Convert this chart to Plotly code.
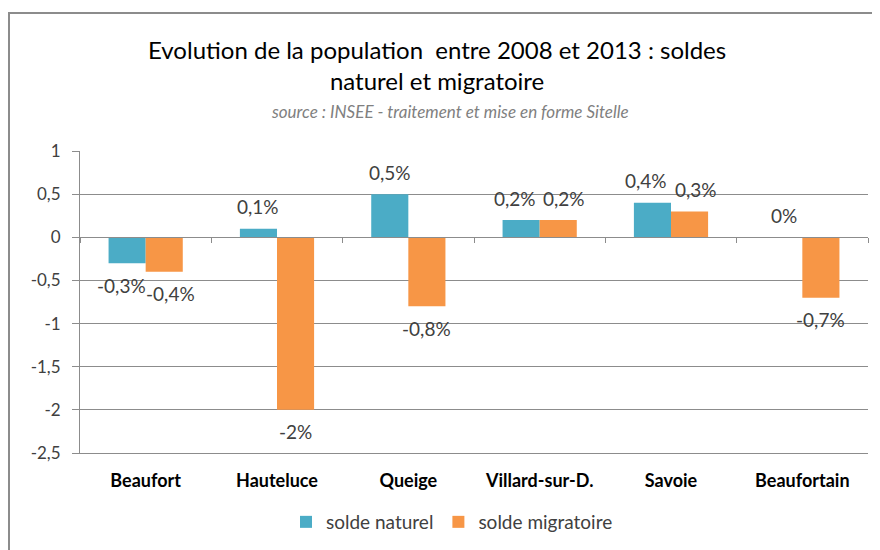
import plotly.graph_objects as go

categories = ["Beaufort", "Hauteluce", "Queige", "Villard-sur-D.", "Savoie", "Beaufortain"]
solde_naturel = [-0.3, 0.1, 0.5, 0.2, 0.4, 0.0]
solde_migratoire = [-0.4, -2.0, -0.8, 0.2, 0.3, -0.7]
y_ticks = [1, 0.5, 0, -0.5, -1, -1.5, -2, -2.5]

def fmt(v):
    return ("%g" % v).replace(".", ",")

OFF = 8  # default page body margin around the figure
W, H = 880 - OFF, 550 - OFF
ML, MR, MT, MB = 80 - OFF, 12, 151 - OFF, 97
PW, PH = W - ML - MR, H - MT - MB
FONT = "Lato, Open Sans, sans-serif"
BLUE = "#4BACC6"
ORANGE = "#F79646"
GRID = "#8C8C8C"
TXT = "#404040"
BARGAP = 0.435
LABEL_GAP = 22     # px between bar end and label centre
LABEL_SPREAD = 6   # px outward spread of the two labels of a crowded group
LABEL_H = 15       # approx label height in px (collision test)

def px_x(p):
    return (p - OFF - ML) / PW

def px_y(p):
    return (H - MB - (p - OFF)) / PH

series = [("solde naturel", solde_naturel, BLUE),
          ("solde migratoire", solde_migratoire, ORANGE)]

fig = go.Figure()
for name, vals, col in series:
    fig.add_trace(go.Bar(
        name=name, x=categories, y=vals,
        marker=dict(color=col, line=dict(width=0)),
    ))
# invisible trace to carry the zero-line axis with boundary ticks
fig.add_trace(go.Bar(x=categories, y=[None] * len(categories), xaxis="x2",
                     showlegend=False, hoverinfo="skip"))

yr = [min(y_ticks), max(y_ticks)]
px_per_unit = PH / (yr[1] - yr[0])

# data labels, spread apart a little when the two labels of a group collide
cat_w = PW / len(categories)
bar_w = cat_w * (1 - BARGAP) / len(series)
annotations = []
for ci, c in enumerate(categories):
    a, b = solde_naturel[ci], solde_migratoire[ci]
    crowded = ((a >= 0) == (b >= 0)) and abs(a - b) * px_per_unit < LABEL_H
    for si, (name, vals, col) in enumerate(series):
        v = vals[ci]
        sgn = -1 if si == 0 else 1
        annotations.append(dict(
            x=c, y=v, xref="x", yref="y", text=fmt(v) + "%", showarrow=False,
            xshift=sgn * (bar_w / 2 + (LABEL_SPREAD if crowded else 0)),
            yshift=LABEL_GAP if v >= 0 else -LABEL_GAP,
            xanchor="center", yanchor="middle",
            font=dict(family=FONT, size=19, color=TXT)))

annotations += [
    dict(text="Evolution de la population  entre 2008 et 2013 : soldes<br>naturel et migratoire",
         xref="paper", yref="paper", x=px_x(437), y=px_y(65), xanchor="center", yanchor="middle",
         showarrow=False, font=dict(family=FONT, size=24, color="#000000")),
    dict(text="<i>source : INSEE - traitement et mise en forme Sitelle</i>",
         xref="paper", yref="paper", x=px_x(450), y=px_y(112), xanchor="center", yanchor="middle",
         showarrow=False, font=dict(family=FONT, size=17, color="#808080")),
]

fig.update_layout(
    width=W, height=H,
    margin=dict(l=ML, r=MR, t=MT, b=MB, autoexpand=False),
    paper_bgcolor="white", plot_bgcolor="white",
    separators=", ",
    barmode="group", bargap=BARGAP, bargroupgap=0,
    font=dict(family=FONT, color=TXT),
    showlegend=True,
    legend=dict(orientation="h", x=px_x(452), xanchor="center", y=px_y(522), yanchor="middle",
                font=dict(family=FONT, size=19, color=TXT), itemwidth=30,
                traceorder="normal"),
    xaxis=dict(type="category", showline=True, linecolor=GRID, linewidth=1,
               ticks="", showgrid=False,
               tickfont=dict(family=FONT, size=18, color="#000000", weight="bold"),
               ticklabelstandoff=11, range=[-0.5, 5.5]),
    xaxis2=dict(type="category", overlaying="x", anchor="free",
                position=(0 - yr[0]) / (yr[1] - yr[0]), side="bottom",
                showline=True, linecolor=GRID, linewidth=1,
                ticks="outside", tickson="boundaries", ticklen=5, tickcolor=GRID,
                showticklabels=False, showgrid=False, range=[-0.5, 5.5]),
    yaxis=dict(range=yr, tickvals=y_ticks, ticktext=[fmt(v) for v in y_ticks],
               showgrid=True, gridcolor=GRID, gridwidth=1,
               zeroline=False, showline=True, linecolor=GRID, linewidth=1,
               ticks="outside", ticklen=7, tickcolor=GRID,
               tickfont=dict(family=FONT, size=17, color=TXT), ticklabelstandoff=8),
    shapes=[dict(type="rect", xref="paper", yref="paper",
                 x0=px_x(9), x1=px_x(890), y0=px_y(560), y1=px_y(13),
                 line=dict(color="#8C8C8C", width=2), layer="below")],
    annotations=annotations,
)
fig.write_html("out.html")
